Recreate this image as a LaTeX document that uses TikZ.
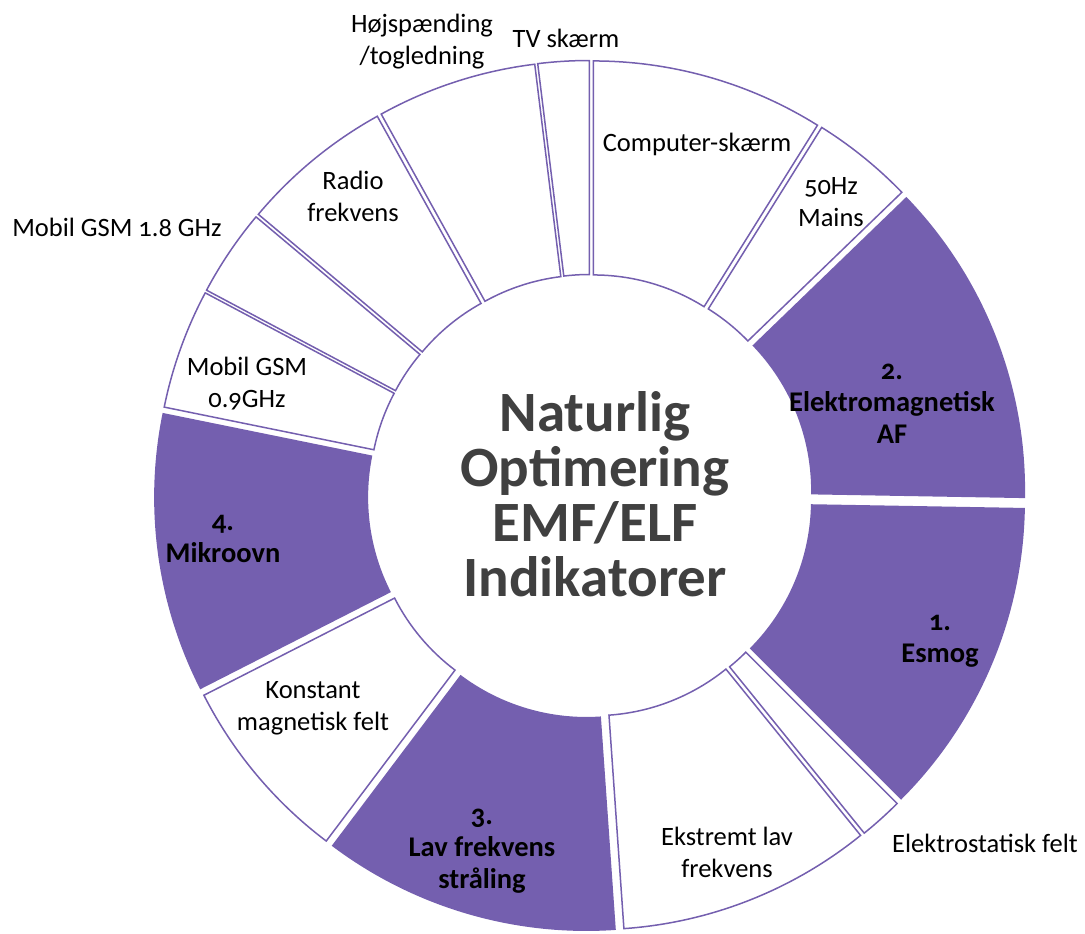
\documentclass[tikz,border=0pt]{standalone}
\usepackage{fontspec}
\setmainfont{Carlito}[Numbers=OldStyle]
\definecolor{lilla}{RGB}{116,95,175}
\definecolor{titelgraa}{RGB}{64,64,64}

\begin{document}
\begin{tikzpicture}[x=1pt,y=1pt]
    \tikzset{%
      seg/.style={draw=lilla, line width=1.5pt, fill=white},
      pseg/.style={fill=lilla},
      lbl/.style={font=\fontsize{26.5}{32}\selectfont, align=center,
        inner sep=0pt},
      blbl/.style={font=\fontsize{28.5}{32}\selectfont\bfseries,
        align=center, inner sep=0pt},
      titel/.style={font=\fontsize{57}{55}\selectfont\bfseries,
        text=titelgraa, align=center, inner sep=0pt},
    }
    \useasboundingbox (0,0) rectangle (1085,934);
    \coordinate (M) at (590,438.5);

    \begin{scope}[shift={(M)}]
    % hvide felter
    \draw[seg, shift={(74:12)}] (90:423) arc[start angle=90, end angle=58, radius=423]
      -- (58:209) arc[start angle=58, end angle=90, radius=209] -- cycle;
    \draw[seg, shift={(51:12)}] (58:423) arc[start angle=58, end angle=44, radius=423]
      -- (44:209) arc[start angle=44, end angle=58, radius=209] -- cycle;
    \draw[seg, shift={(-48:12)}] (-45:423) arc[start angle=-45, end angle=-51, radius=423]
      -- (-51:209) arc[start angle=-51, end angle=-45, radius=209] -- cycle;
    \draw[seg, shift={(-68.5:12)}] (-51:423) arc[start angle=-51, end angle=-86, radius=423]
      -- (-86:209) arc[start angle=-86, end angle=-51, radius=209] -- cycle;
    \draw[seg, shift={(-140:12)}] (-127:423) arc[start angle=-127, end angle=-153, radius=423]
      -- (-153:209) arc[start angle=-153, end angle=-127, radius=209] -- cycle;
    \draw[seg, shift={(-199.75:12)}] (-191.5:423) arc[start angle=-191.5, end angle=-208, radius=423]
      -- (-208:209) arc[start angle=-208, end angle=-191.5, radius=209] -- cycle;
    \draw[seg, shift={(-214:12)}] (-208:423) arc[start angle=-208, end angle=-220, radius=423]
      -- (-220:209) arc[start angle=-220, end angle=-208, radius=209] -- cycle;
    \draw[seg, shift={(-230.5:12)}] (-220:423) arc[start angle=-220, end angle=-241, radius=423]
      -- (-241:209) arc[start angle=-241, end angle=-220, radius=209] -- cycle;
    \draw[seg, shift={(-252:12)}] (-241:423) arc[start angle=-241, end angle=-263, radius=423]
      -- (-263:209) arc[start angle=-263, end angle=-241, radius=209] -- cycle;
    \draw[seg, shift={(-266.5:12)}] (-263:423) arc[start angle=-263, end angle=-270, radius=423]
      -- (-270:209) arc[start angle=-270, end angle=-263, radius=209] -- cycle;

    % lilla felter
    \fill[pseg, shift={(21.5:13)}] (44:423) arc[start angle=44, end angle=-1, radius=423]
      -- (-1:209) arc[start angle=-1, end angle=44, radius=209] -- cycle;
    \fill[pseg, shift={(-23:13)}] (-1:423) arc[start angle=-1, end angle=-45, radius=423]
      -- (-45:209) arc[start angle=-45, end angle=-1, radius=209] -- cycle;
    \fill[pseg, shift={(-106.5:13)}] (-86:423) arc[start angle=-86, end angle=-127, radius=423]
      -- (-127:209) arc[start angle=-127, end angle=-86, radius=209] -- cycle;
    \fill[pseg, shift={(-172.25:13)}] (-153:423) arc[start angle=-153, end angle=-191.5, radius=423]
      -- (-191.5:209) arc[start angle=-191.5, end angle=-153, radius=209] -- cycle;
    \end{scope}

    \node[lbl] (comp) at (697,790) {Computer-skærm};
    \node[lbl] (mains) at (831,731.5) {50Hz\\Mains};
    \node[blbl] (em) at (892,530) {2.\\Elektromagnetisk\\AF};
    \node[blbl] (esmog) at (940,292.5) {1.\\Esmog};
    \node[lbl] (estat) at (985,91) {Elektrostatisk felt};
    \node[lbl] (elf) at (727,82) {Ekstremt lav\\frekvens};
    \node[blbl] (lav) at (482,83) {3.\\Lav frekvens\\stråling};
    \node[lbl] (konst) at (313,226) {Konstant\\magnetisk felt};
    \node[blbl] (mikro) at (223,395) {4.\\Mikroovn};
    \node[lbl] (gsm9) at (247,550) {Mobil GSM\\0.9GHz};
    \node[lbl] (gsm18) at (117,707) {Mobil GSM 1.8 GHz};
    \node[lbl] (radio) at (353,738) {Radio\\frekvens};
    \node[lbl] (hoej) at (422,892) {Højspænding\\/togledning};
    \node[lbl] (tv) at (566,896) {TV skærm};

    \node[titel] (titel) at (595,440) {Naturlig\\Optimering\\EMF/ELF\\Indikatorer};
\end{tikzpicture}
\end{document}
